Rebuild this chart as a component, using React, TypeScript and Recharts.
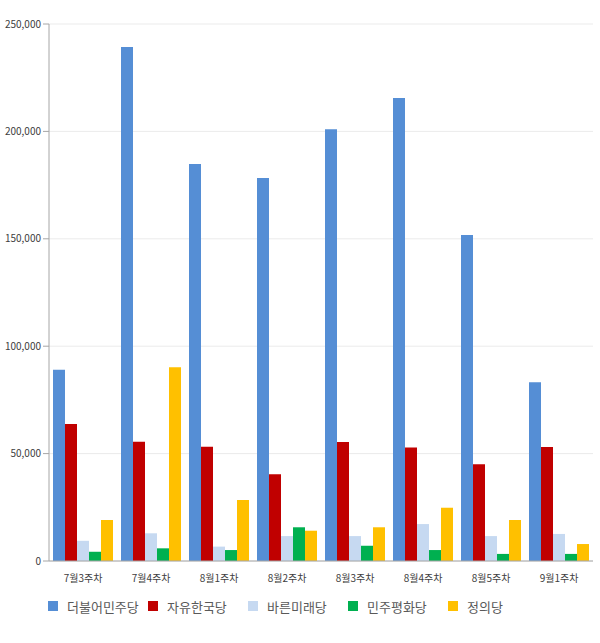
import React from 'react';
import { BarChart, Bar, XAxis, YAxis, CartesianGrid, Legend } from 'recharts';

const weeks = ['7월3주차', '7월4주차', '8월1주차', '8월2주차', '8월3주차', '8월4주차', '8월5주차', '9월1주차'];
const minjoo = [89000, 239300, 184800, 178300, 201000, 215500, 151800, 83200];
const hanguk = [63800, 55500, 53200, 40400, 55400, 52800, 45000, 53100];
const bareun = [9400, 12900, 6700, 11600, 11600, 17200, 11600, 12600];
const pyeonghwa = [4300, 5900, 5100, 15700, 7100, 5100, 3300, 3300];
const jeongui = [19100, 90200, 28400, 14100, 15700, 24800, 19100, 7900];
const yTicks = [0, 50000, 100000, 150000, 200000, 250000];

const SERIES = [
  { key: 'minjoo', name: '더불어민주당', color: '#558ed5' },
  { key: 'hanguk', name: '자유한국당', color: '#c00000' },
  { key: 'bareun', name: '바른미래당', color: '#c6d9f1' },
  { key: 'pyeonghwa', name: '민주평화당', color: '#00b050' },
  { key: 'jeongui', name: '정의당', color: '#ffc000' },
];

const data = weeks.map((week, i) => ({
  week,
  minjoo: minjoo[i],
  hanguk: hanguk[i],
  bareun: bareun[i],
  pyeonghwa: pyeonghwa[i],
  jeongui: jeongui[i],
}));

const FONT = '"Noto Sans CJK KR", "Noto Sans", sans-serif';

const renderLegend = () => (
  <div style={{ display: 'flex', paddingLeft: 48, height: 30, alignItems: 'center' }}>
    {SERIES.map((s) => (
      <div key={s.key} style={{ width: 100, display: 'flex', alignItems: 'center', fontFamily: FONT, fontSize: 13, color: '#595959' }}>
        <span style={{ width: 10, height: 10, background: s.color, marginRight: 9, display: 'inline-block' }} />
        {s.name}
      </div>
    ))}
  </div>
);

const App: React.FC = () => {
  return (
    <div style={{ position: 'absolute', left: 0, top: 0, background: '#fff' }}>
      <BarChart
        width={600}
        height={643}
        data={data}
        margin={{ top: 24, right: 7, left: 0, bottom: 22 }}
        barGap={0}
        barCategoryGap={4}
      >
        <CartesianGrid vertical={false} stroke="#ebebeb" />
        <XAxis
          dataKey="week"
          height={30}
          tickLine={false}
          axisLine={{ stroke: '#a6a6a6' }}
          tick={{ fill: '#404040', fontSize: 10, fontFamily: FONT }}
          tickMargin={8}
          interval={0}
        />
        <YAxis
          width={49}
          domain={[0, 250000]}
          ticks={yTicks}
          tickFormatter={(v: number) => v.toLocaleString('en-US')}
          axisLine={{ stroke: '#a6a6a6' }}
          tickLine={{ stroke: '#a6a6a6' }}
          tickSize={6}
          tick={{ fill: '#404040', fontSize: 10, fontFamily: FONT }}
        />
        <Legend verticalAlign="bottom" content={renderLegend} />
        {SERIES.map((s) => (
          <Bar key={s.key} dataKey={s.key} name={s.name} fill={s.color} isAnimationActive={false} />
        ))}
      </BarChart>
    </div>
  );
};

export default App;
